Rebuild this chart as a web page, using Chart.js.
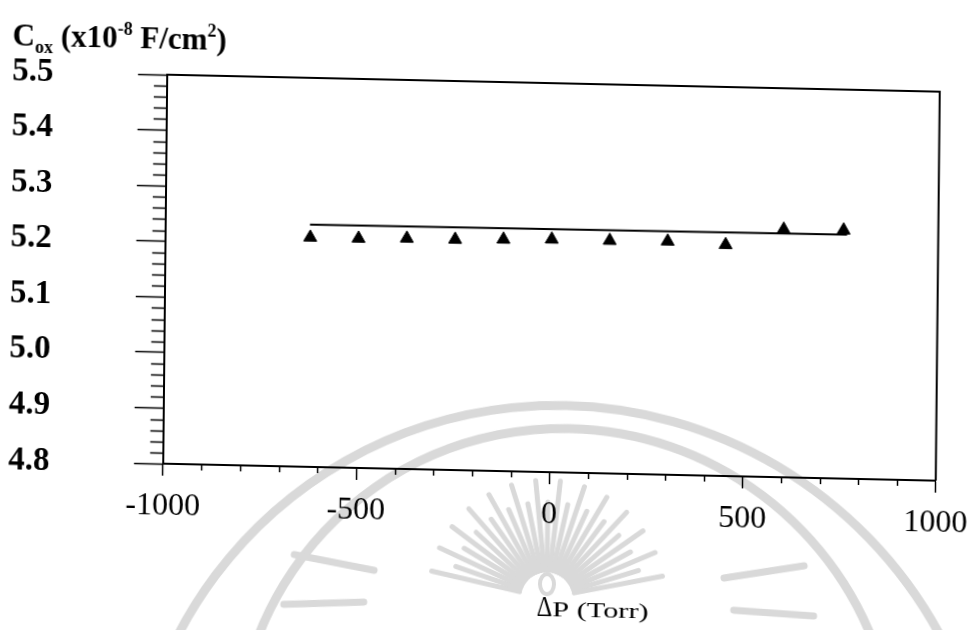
<!DOCTYPE html>
<html>
<head>
<meta charset="utf-8">
<script src="https://cdn.jsdelivr.net/npm/chart.js@4/dist/chart.umd.min.js"></script>
<style>
  html, body { margin: 0; padding: 0; background: #fff; overflow: hidden; width: 969px; height: 630px; }
  #wrap { width: 1000px; height: 630px; transform-origin: 0 0; transform: matrix(1, 0.022, -0.0103, 1, 0, 0); }
  canvas { display: block; }
</style>
</head>
<body>
<div id="wrap"><canvas id="c" width="1000" height="630"></canvas></div>
<script>
// Oxide capacitance versus pressure difference
const deltaP = [-625, -500, -375, -250, -125, 0, 150, 300, 450, 600, 755];
const cox    = [5.213, 5.213, 5.215, 5.215, 5.217, 5.219, 5.219, 5.220, 5.216, 5.246, 5.247];

// straight-line fit through the measurements
const fitX = [-626, 764];
const fitY = [5.236, 5.239];

const xTicks = [-1000, -500, 0, 500, 1000];
const yTicks = [4.8, 4.9, 5.0, 5.1, 5.2, 5.3, 5.4, 5.5];

const SERIF = '"Liberation Serif", "Times New Roman", serif';
const INK = '#000';

// faint seal printed behind the figure
const sealPlugin = {
  id: 'seal',
  beforeDraw(chart) {
    const ctx = chart.ctx;
    ctx.save();
    ctx.strokeStyle = '#d9d9d9';
    ctx.lineCap = 'round';
    ctx.lineWidth = 9;
    ctx.beginPath();
    ctx.arc(570, 824, 431, Math.PI * 1.08, Math.PI * 1.92);
    ctx.stroke();
    ctx.beginPath();
    ctx.arc(574, 746, 330, Math.PI * 1.05, Math.PI * 1.95);
    ctx.stroke();
    // rays
    const cx = 553, cy = 586;
    ctx.lineWidth = 5;
    let k = 0;
    for (let a = -168; a <= -12; a += 6, k++) {
      const r = a * Math.PI / 180;
      const r0 = 28, r1 = (k % 2 === 0) ? 118 : 96;
      ctx.beginPath();
      ctx.moveTo(cx + Math.cos(r) * r0, cy + Math.sin(r) * r0);
      ctx.lineTo(cx + Math.cos(r) * r1, cy + Math.sin(r) * r1);
      ctx.stroke();
    }
    // side strokes
    ctx.lineWidth = 7;
    [[300, 548, 380, 562], [290, 598, 370, 594], [810, 548, 730, 562], [820, 598, 740, 594]].forEach(s => {
      ctx.beginPath(); ctx.moveTo(s[0], s[1]); ctx.lineTo(s[2], s[3]); ctx.stroke();
    });
    // ring
    ctx.lineWidth = 4;
    ctx.beginPath();
    ctx.ellipse(cx, cy - 14, 7, 10, 0, 0, 2 * Math.PI);
    ctx.stroke();
    ctx.restore();
  }
};

// closed frame plus minor tick marks on both axes
const framePlugin = {
  id: 'frame',
  afterDraw(chart) {
    const { ctx, chartArea: a, scales: { x, y } } = chart;
    ctx.save();
    ctx.strokeStyle = INK;
    ctx.lineWidth = 2;
    ctx.beginPath();
    ctx.moveTo(a.left, a.top);
    ctx.lineTo(a.right, a.top);
    ctx.lineTo(a.right, a.bottom);
    ctx.stroke();
    ctx.lineWidth = 1.5;
    for (let i = -10; i <= 10; i++) {
      if (i % 5 === 0) continue;
      const px = Math.round(x.getPixelForValue(i * 100)) + 0.5;
      ctx.beginPath();
      ctx.moveTo(px, a.bottom);
      ctx.lineTo(px, a.bottom + 6);
      ctx.stroke();
    }
    for (let k = 0; k <= 35; k++) {
      if (k % 5 === 0) continue;
      const py = Math.round(y.getPixelForValue(4.8 + k * 0.02)) + 0.5;
      ctx.beginPath();
      ctx.moveTo(a.left - 13, py);
      ctx.lineTo(a.left, py);
      ctx.stroke();
    }
    ctx.restore();
  }
};

// each run: text, font, vertical shift, horizontal stretch
function drawRuns(ctx, x, y, runs) {
  runs.forEach(r => {
    const sx = r.sx || 1;
    ctx.font = r.f;
    ctx.save();
    ctx.translate(x, y + (r.dy || 0));
    ctx.scale(sx, 1);
    ctx.fillText(r.t, 0, 0);
    ctx.restore();
    x += ctx.measureText(r.t).width * sx;
  });
}

// axis titles with sub/superscripts
const titlePlugin = {
  id: 'titles',
  afterDraw(chart) {
    const ctx = chart.ctx;
    ctx.save();
    ctx.fillStyle = INK;
    ctx.textBaseline = 'alphabetic';
    ctx.textAlign = 'left';
    const big = 'bold 31px ' + SERIF, small = 'bold 18px ' + SERIF;
    drawRuns(ctx, 13, 45, [
      { t: 'C', f: big },
      { t: 'ox', f: small, dy: 7 },
      { t: ' (x10', f: big },
      { t: '-8', f: small, dy: -13 },
      { t: ' F/cm', f: big },
      { t: '2', f: small, dy: -13 },
      { t: ')', f: big }
    ]);
    drawRuns(ctx, 543, 604, [
      { t: '\u0394', f: '30px ' + SERIF, sx: 0.8 },
      { t: 'P (Torr)', f: '22px ' + SERIF, sx: 1.38 }
    ]);
    ctx.restore();
  }
};

new Chart(document.getElementById('c'), {
  type: 'scatter',
  data: {
    datasets: [
      {
        type: 'line',
        data: fitX.map((v, i) => ({ x: v, y: fitY[i] })),
        borderColor: INK,
        borderWidth: 2,
        pointRadius: 0,
        fill: false,
        tension: 0
      },
      {
        data: deltaP.map((v, i) => ({ x: v, y: cox[i] })),
        pointStyle: 'triangle',
        pointRadius: 7.5,
        backgroundColor: INK,
        borderColor: INK,
        borderWidth: 1
      }
    ]
  },
  options: {
    responsive: false,
    animation: false,
    events: [],
    layout: { padding: { left: 13, top: 71, right: 59.3, bottom: 0 } },
    plugins: { legend: { display: false }, tooltip: { enabled: false }, title: { display: false } },
    scales: {
      x: {
        type: 'linear',
        min: -1000, max: 1000,
        afterBuildTicks: s => { s.ticks = xTicks.map(v => ({ value: v })); },
        afterFit: s => { s.height = 630 - 460; s.paddingLeft = 0; s.paddingRight = 0; },
        ticks: {
          color: INK,
          font: { family: SERIF, size: 32 },
          padding: 11,
          maxRotation: 0,
          autoSkip: false,
          callback: v => String(v)
        },
        grid: { drawOnChartArea: false, tickLength: 12, color: INK, tickWidth: 1.5 },
        border: { display: true, color: INK, width: 2 }
      },
      y: {
        type: 'linear',
        min: 4.8, max: 5.5,
        afterBuildTicks: s => { s.ticks = yTicks.map(v => ({ value: v })); },
        afterFit: s => { s.width = 154.8; s.paddingTop = 0; s.paddingBottom = 0; },
        ticks: {
          color: INK,
          font: { family: SERIF, size: 33, weight: 'bold' },
          crossAlign: 'far',
          padding: 0,
          autoSkip: false,
          callback: v => Number(v).toFixed(1)
        },
        grid: { drawOnChartArea: false, tickLength: 29, color: INK, tickWidth: 1.5 },
        border: { display: true, color: INK, width: 2 }
      }
    }
  },
  plugins: [sealPlugin, framePlugin, titlePlugin]
});
</script>
</body>
</html>
